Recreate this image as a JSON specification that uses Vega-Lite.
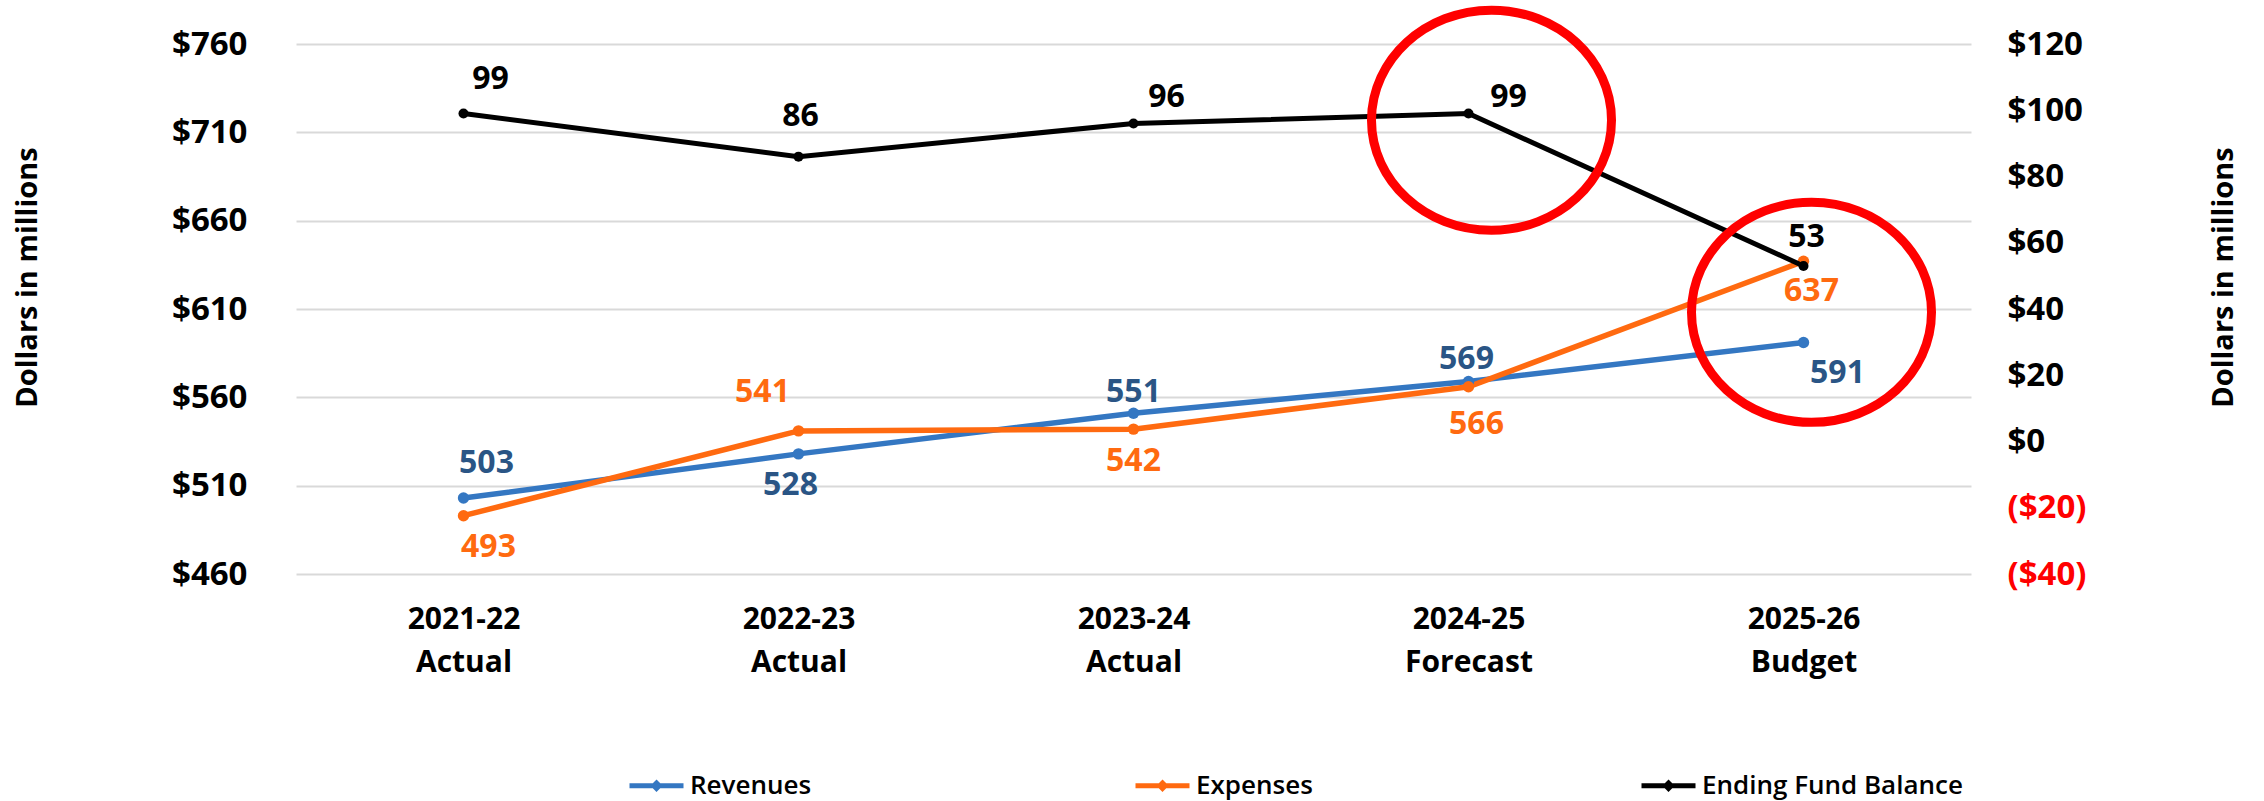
{
  "$schema": "https://vega.github.io/schema/vega-lite/v6.json",
  "width": 1675,
  "height": 530,
  "autosize": {"type": "none"},
  "padding": {"left": 296, "top": 44, "right": 293, "bottom": 227},
  "background": "white",
  "config": {"view": {"stroke": null}},
  "datasets": {
    "d": [
      {"year": "2021-22 Actual", "series": "Revenues", "value": 503},
      {"year": "2022-23 Actual", "series": "Revenues", "value": 528},
      {"year": "2023-24 Actual", "series": "Revenues", "value": 551},
      {"year": "2024-25 Forecast", "series": "Revenues", "value": 569},
      {"year": "2025-26 Budget", "series": "Revenues", "value": 591},
      {"year": "2021-22 Actual", "series": "Expenses", "value": 493},
      {"year": "2022-23 Actual", "series": "Expenses", "value": 541},
      {"year": "2023-24 Actual", "series": "Expenses", "value": 542},
      {"year": "2024-25 Forecast", "series": "Expenses", "value": 566},
      {"year": "2025-26 Budget", "series": "Expenses", "value": 637},
      {"year": "2021-22 Actual", "series": "Ending Fund Balance", "value": 99},
      {"year": "2022-23 Actual", "series": "Ending Fund Balance", "value": 86},
      {"year": "2023-24 Actual", "series": "Ending Fund Balance", "value": 96},
      {"year": "2024-25 Forecast", "series": "Ending Fund Balance", "value": 99},
      {"year": "2025-26 Budget", "series": "Ending Fund Balance", "value": 53}
    ],
    "ann": [
      {"year": "2024-25 Forecast", "value": 97},
      {"year": "2025-26 Budget", "value": 39}
    ]
  },
  "data": {"name": "d"},
  "encoding": {
    "x": {"field": "year", "type": "nominal", "scale": {"type": "point", "padding": 0.5},
      "axis": {"orient": "bottom", "title": null, "labelExpr": "split(datum.label, ' ')", "labelFont": "Open Sans", "labelFontWeight": "bold", "labelFontSize": 30, "labelLineHeight": 43, "labelPadding": 30, "labelColor": "#000000", "labelAngle": 0, "domain": false, "ticks": false, "grid": false}}
  },
  "resolve": {"scale": {"y": "independent"}, "axis": {"y": "independent"}},
  "layer": [
    {
      "encoding": {
        "y": {"field": "value", "type": "quantitative", "scale": {"domain": [460, 760], "nice": false, "zero": false},
          "axis": {"orient": "left", "values": [460, 510, 560, 610, 660, 710, 760], "labelExpr": "'$' + datum.value", "title": "Dollars in millions", "grid": true, "gridColor": "#D9D9D9", "gridWidth": 2, "domain": false, "ticks": false, "labelPadding": 49, "labelFont": "Open Sans", "labelFontWeight": "bold", "labelFontSize": 33, "labelColor": "#000000", "labelOverlap": false, "labelFlush": false, "labelBound": false, "titleFont": "Open Sans", "titleFontWeight": "bold", "titleFontSize": 29, "titleColor": "#000000", "titleAngle": -90, "titleX": -269, "titleY": 233, "titleAlign": "center", "titleBaseline": "middle"}}
      },
      "layer": [
        {
          "transform": [{"filter": "datum.series != 'Ending Fund Balance'"}],
          "mark": {"type": "line", "strokeWidth": 5.5, "point": {"filled": true, "size": 130, "opacity": 1}},
          "encoding": {
            "color": {"field": "series", "type": "nominal",
              "scale": {"domain": ["Revenues", "Expenses", "Ending Fund Balance"], "range": ["#3477C2", "#FF6A10", "#000000"]},
              "legend": {"orient": "none", "legendX": 331, "legendY": 712, "direction": "horizontal", "columns": 3, "gridAlign": "all", "columnPadding": 174, "title": null, "symbolType": "M-1,0L1,0M0,-0.1L0.1,0L0,0.1L-0.1,0Z", "symbolSize": 2916, "symbolStrokeWidth": 5, "labelFont": "Open Sans", "labelFontWeight": 600, "labelFontSize": 26, "labelColor": "#000000", "labelOffset": 4, "padding": 0, "labelLimit": 400}}
          }
        },
        {"transform": [{"filter": "datum.series == 'Revenues' && datum.year == '2021-22 Actual'"}], "mark": {"type": "text", "font": "Open Sans", "fontWeight": "bold", "fontSize": 32, "align": "center", "baseline": "middle", "color": "#2A5585", "dx": 23, "dy": -35}, "encoding": {"text": {"field": "value", "type": "quantitative"}}},
        {"transform": [{"filter": "datum.series == 'Revenues' && datum.year == '2022-23 Actual'"}], "mark": {"type": "text", "font": "Open Sans", "fontWeight": "bold", "fontSize": 32, "align": "center", "baseline": "middle", "color": "#2A5585", "dx": -8, "dy": 31}, "encoding": {"text": {"field": "value", "type": "quantitative"}}},
        {"transform": [{"filter": "datum.series == 'Revenues' && datum.year == '2023-24 Actual'"}], "mark": {"type": "text", "font": "Open Sans", "fontWeight": "bold", "fontSize": 32, "align": "center", "baseline": "middle", "color": "#2A5585", "dx": 0, "dy": -21}, "encoding": {"text": {"field": "value", "type": "quantitative"}}},
        {"transform": [{"filter": "datum.series == 'Revenues' && datum.year == '2024-25 Forecast'"}], "mark": {"type": "text", "font": "Open Sans", "fontWeight": "bold", "fontSize": 32, "align": "center", "baseline": "middle", "color": "#2A5585", "dx": -2, "dy": -22}, "encoding": {"text": {"field": "value", "type": "quantitative"}}},
        {"transform": [{"filter": "datum.series == 'Revenues' && datum.year == '2025-26 Budget'"}], "mark": {"type": "text", "font": "Open Sans", "fontWeight": "bold", "fontSize": 32, "align": "center", "baseline": "middle", "color": "#2A5585", "dx": 34, "dy": 30}, "encoding": {"text": {"field": "value", "type": "quantitative"}}},
        {"transform": [{"filter": "datum.series == 'Expenses' && datum.year == '2021-22 Actual'"}], "mark": {"type": "text", "font": "Open Sans", "fontWeight": "bold", "fontSize": 32, "align": "center", "baseline": "middle", "color": "#FF6A10", "dx": 25, "dy": 31}, "encoding": {"text": {"field": "value", "type": "quantitative"}}},
        {"transform": [{"filter": "datum.series == 'Expenses' && datum.year == '2022-23 Actual'"}], "mark": {"type": "text", "font": "Open Sans", "fontWeight": "bold", "fontSize": 32, "align": "center", "baseline": "middle", "color": "#FF6A10", "dx": -36, "dy": -39}, "encoding": {"text": {"field": "value", "type": "quantitative"}}},
        {"transform": [{"filter": "datum.series == 'Expenses' && datum.year == '2023-24 Actual'"}], "mark": {"type": "text", "font": "Open Sans", "fontWeight": "bold", "fontSize": 32, "align": "center", "baseline": "middle", "color": "#FF6A10", "dx": 0, "dy": 32}, "encoding": {"text": {"field": "value", "type": "quantitative"}}},
        {"transform": [{"filter": "datum.series == 'Expenses' && datum.year == '2024-25 Forecast'"}], "mark": {"type": "text", "font": "Open Sans", "fontWeight": "bold", "fontSize": 32, "align": "center", "baseline": "middle", "color": "#FF6A10", "dx": 8, "dy": 37}, "encoding": {"text": {"field": "value", "type": "quantitative"}}},
        {"transform": [{"filter": "datum.series == 'Expenses' && datum.year == '2025-26 Budget'"}], "mark": {"type": "text", "font": "Open Sans", "fontWeight": "bold", "fontSize": 32, "align": "center", "baseline": "middle", "color": "#FF6A10", "dx": 8, "dy": 30}, "encoding": {"text": {"field": "value", "type": "quantitative"}}}
      ]
    },
    {
      "encoding": {
        "y": {"field": "value", "type": "quantitative", "scale": {"domain": [-40, 120], "nice": false, "zero": false},
          "axis": {"orient": "right", "values": [-40, -20, 0, 20, 40, 60, 80, 100, 120], "labelExpr": "datum.value < 0 ? '($' + abs(datum.value) + ')' : '$' + datum.value", "labelColor": {"condition": {"test": "datum.value < 0", "value": "#FF0000"}, "value": "#000000"}, "title": "Dollars in millions", "grid": false, "domain": false, "ticks": false, "labelPadding": 36, "labelFont": "Open Sans", "labelFontWeight": "bold", "labelFontSize": 33, "labelOverlap": false, "labelFlush": false, "labelBound": false, "titleFont": "Open Sans", "titleFontWeight": "bold", "titleFontSize": 29, "titleColor": "#000000", "titleAngle": -90, "titleX": 252, "titleY": 233, "titleAlign": "center", "titleBaseline": "middle"}}
      },
      "layer": [
        {
          "transform": [{"filter": "datum.series == 'Ending Fund Balance'"}],
          "mark": {"type": "line", "strokeWidth": 5, "point": {"filled": true, "size": 100, "opacity": 1}},
          "encoding": {
            "color": {"field": "series", "type": "nominal",
              "scale": {"domain": ["Revenues", "Expenses", "Ending Fund Balance"], "range": ["#3477C2", "#FF6A10", "#000000"]},
              "legend": {"orient": "none", "legendX": 331, "legendY": 712, "direction": "horizontal", "columns": 3, "gridAlign": "all", "columnPadding": 174, "title": null, "symbolType": "M-1,0L1,0M0,-0.1L0.1,0L0,0.1L-0.1,0Z", "symbolSize": 2916, "symbolStrokeWidth": 5, "labelFont": "Open Sans", "labelFontWeight": 600, "labelFontSize": 26, "labelColor": "#000000", "labelOffset": 4, "padding": 0, "labelLimit": 400}}
          }
        },
        {"transform": [{"filter": "datum.series == 'Ending Fund Balance' && datum.year == '2021-22 Actual'"}], "mark": {"type": "text", "font": "Open Sans", "fontWeight": "bold", "fontSize": 32, "align": "center", "baseline": "middle", "color": "#000000", "dx": 27, "dy": -35}, "encoding": {"text": {"field": "value", "type": "quantitative"}}},
        {"transform": [{"filter": "datum.series == 'Ending Fund Balance' && datum.year == '2022-23 Actual'"}], "mark": {"type": "text", "font": "Open Sans", "fontWeight": "bold", "fontSize": 32, "align": "center", "baseline": "middle", "color": "#000000", "dx": 2, "dy": -41}, "encoding": {"text": {"field": "value", "type": "quantitative"}}},
        {"transform": [{"filter": "datum.series == 'Ending Fund Balance' && datum.year == '2023-24 Actual'"}], "mark": {"type": "text", "font": "Open Sans", "fontWeight": "bold", "fontSize": 32, "align": "center", "baseline": "middle", "color": "#000000", "dx": 33, "dy": -27}, "encoding": {"text": {"field": "value", "type": "quantitative"}}},
        {"transform": [{"filter": "datum.series == 'Ending Fund Balance' && datum.year == '2024-25 Forecast'"}], "mark": {"type": "text", "font": "Open Sans", "fontWeight": "bold", "fontSize": 32, "align": "center", "baseline": "middle", "color": "#000000", "dx": 40, "dy": -17}, "encoding": {"text": {"field": "value", "type": "quantitative"}}},
        {"transform": [{"filter": "datum.series == 'Ending Fund Balance' && datum.year == '2025-26 Budget'"}], "mark": {"type": "text", "font": "Open Sans", "fontWeight": "bold", "fontSize": 32, "align": "center", "baseline": "middle", "color": "#000000", "dx": 3, "dy": -29}, "encoding": {"text": {"field": "value", "type": "quantitative"}}},
        {"data": {"name": "ann"}, "transform": [{"filter": "datum.year == '2024-25 Forecast'"}], "mark": {"type": "point", "shape": "M1,0C1,0.5065 0.5523,0.917 0,0.917C-0.5523,0.917 -1,0.5065 -1,0C-1,-0.5065 -0.5523,-0.917 0,-0.917C0.5523,-0.917 1,-0.5065 1,0Z", "size": 57600, "filled": false, "stroke": "#FF0000", "strokeWidth": 9, "opacity": 1, "strokeOpacity": 1, "xOffset": 23}},
        {"data": {"name": "ann"}, "transform": [{"filter": "datum.year == '2025-26 Budget'"}], "mark": {"type": "point", "shape": "M1,0C1,0.5065 0.5523,0.917 0,0.917C-0.5523,0.917 -1,0.5065 -1,0C-1,-0.5065 -0.5523,-0.917 0,-0.917C0.5523,-0.917 1,-0.5065 1,0Z", "size": 57600, "filled": false, "stroke": "#FF0000", "strokeWidth": 9, "opacity": 1, "strokeOpacity": 1, "xOffset": 8}}
      ]
    }
  ]
}
